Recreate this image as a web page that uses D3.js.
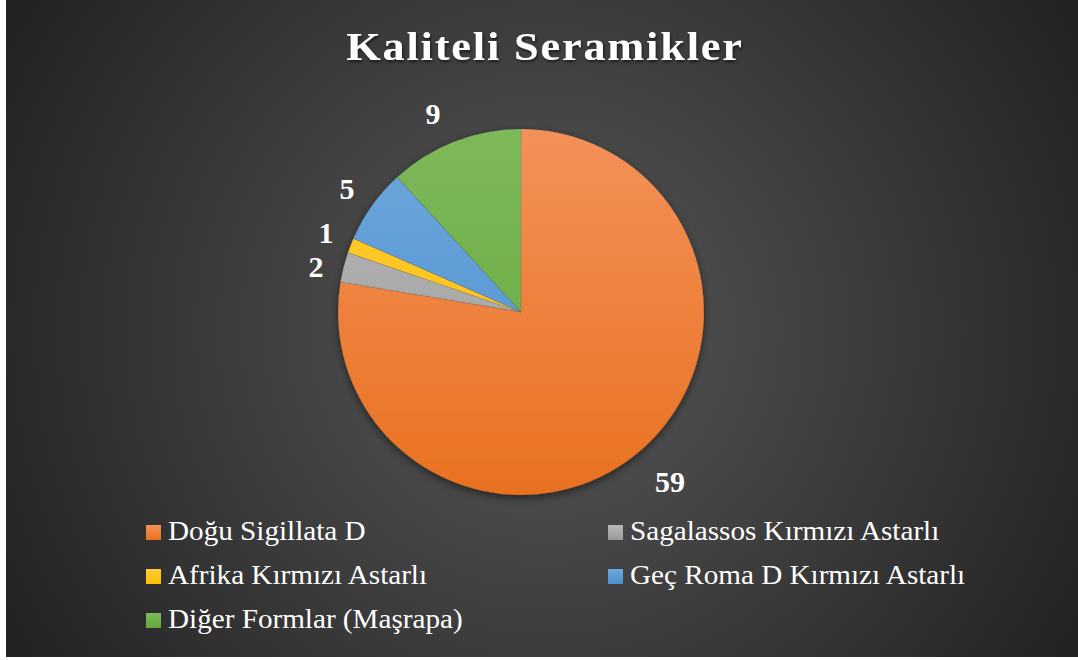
<!DOCTYPE html>
<html><head><meta charset="utf-8">
<script src="https://cdn.jsdelivr.net/npm/d3@7"></script>
<style>html,body{margin:0;padding:0;background:#fff;overflow:hidden}</style>
</head><body>
<script>
const categories = ["Doğu Sigillata D","Sagalassos Kırmızı Astarlı","Afrika Kırmızı Astarlı","Geç Roma D Kırmızı Astarlı","Diğer Formlar (Maşrapa)"];
const values = [59, 2, 1, 5, 9];
const colorsTop = ["#F4915A","#B8B8B8","#FFCB3A","#6EA7DC","#7DB85A"];
const colorsBot = ["#E8711F","#9A9A9A","#FFC000","#4A8FCF","#64A83A"];
const title = "Kaliteli Seramikler";
const FONT = '"Liberation Serif"';

const W = 1078, H = 660;
const svg = d3.select("body").append("svg").attr("width", W).attr("height", H);
const defs = svg.append("defs");

const bg = defs.append("radialGradient").attr("id","bg")
  .attr("gradientUnits","userSpaceOnUse").attr("cx",545).attr("cy",330).attr("r",620);
bg.append("stop").attr("offset","0%").attr("stop-color","#585858");
bg.append("stop").attr("offset","100%").attr("stop-color","#222222");

svg.append("rect").attr("x",6).attr("y",0).attr("width",W-6).attr("height",657).attr("fill","url(#bg)");

const cx = 521, cy = 312, r = 183;
categories.forEach((c,i)=>{
  const g = defs.append("linearGradient").attr("id","sg"+i)
    .attr("gradientUnits","userSpaceOnUse").attr("x1",0).attr("y1",-r).attr("x2",0).attr("y2",r);
  g.append("stop").attr("offset","0%").attr("stop-color",colorsTop[i]);
  g.append("stop").attr("offset","100%").attr("stop-color",colorsBot[i]);
  const lgd = defs.append("linearGradient").attr("id","lsg"+i).attr("x1",0).attr("y1",0).attr("x2",0).attr("y2",1);
  lgd.append("stop").attr("offset","0%").attr("stop-color",colorsTop[i]);
  lgd.append("stop").attr("offset","100%").attr("stop-color",colorsBot[i]);
});

const sh = defs.append("filter").attr("id","shadow").attr("x","-20%").attr("y","-20%").attr("width","140%").attr("height","140%");
sh.append("feDropShadow").attr("dx",0).attr("dy",3).attr("stdDeviation",4).attr("flood-color","#000").attr("flood-opacity",0.5);
const ts = defs.append("filter").attr("id","tshadow").attr("x","-10%").attr("y","-30%").attr("width","120%").attr("height","160%");
ts.append("feDropShadow").attr("dx",1).attr("dy",2).attr("stdDeviation",1.5).attr("flood-color","#000").attr("flood-opacity",0.6);

const SX = 1.08;
svg.append("g").attr("transform",`translate(545,60) scale(${SX},1)`)
  .append("text").attr("x",0).attr("y",0).attr("text-anchor","middle")
  .style("font-family",FONT).style("font-weight","bold").style("font-size","41px").style("letter-spacing","1.7px")
  .attr("fill","#fff").attr("filter","url(#tshadow)")
  .text(title);

const pie = d3.pie().sort(null).value(d=>d)(values);
const arc = d3.arc().innerRadius(0).outerRadius(r);
const pg = svg.append("g").attr("transform",`translate(${cx},${cy})`);
pg.append("g").attr("filter","url(#shadow)").selectAll("path").data(pie).join("path")
  .attr("d",arc).attr("fill",(d,i)=>`url(#sg${i})`)
  .attr("stroke","rgba(60,60,60,0.25)").attr("stroke-width",0.5);

const labelPos = [[149,169],[-205,-46],[-195,-80],[-174,-124],[-88,-199]];
pg.selectAll("text.lbl").data(pie).join("text").attr("class","lbl")
  .attr("x",(d,i)=>labelPos[i][0]).attr("y",(d,i)=>labelPos[i][1])
  .attr("text-anchor","middle").attr("dominant-baseline","central")
  .style("font-family",FONT).style("font-weight","bold").style("font-size","30px").attr("fill","#fff")
  .text(d=>d.data);

const legPos = [[146,540],[608,540],[146,584],[608,584],[146,628]];
const lg = svg.append("g");
categories.forEach((c,i)=>{
  lg.append("rect").attr("x",legPos[i][0]).attr("y",legPos[i][1]-15).attr("width",15).attr("height",15)
    .attr("fill",`url(#lsg${i})`);
  lg.append("g").attr("transform",`translate(${legPos[i][0]+22},${legPos[i][1]}) scale(${SX},1)`)
    .append("text").attr("x",0).attr("y",0)
    .style("font-family",FONT).style("font-size","27px").attr("fill","#fff").text(c);
});
</script>
</body></html>
